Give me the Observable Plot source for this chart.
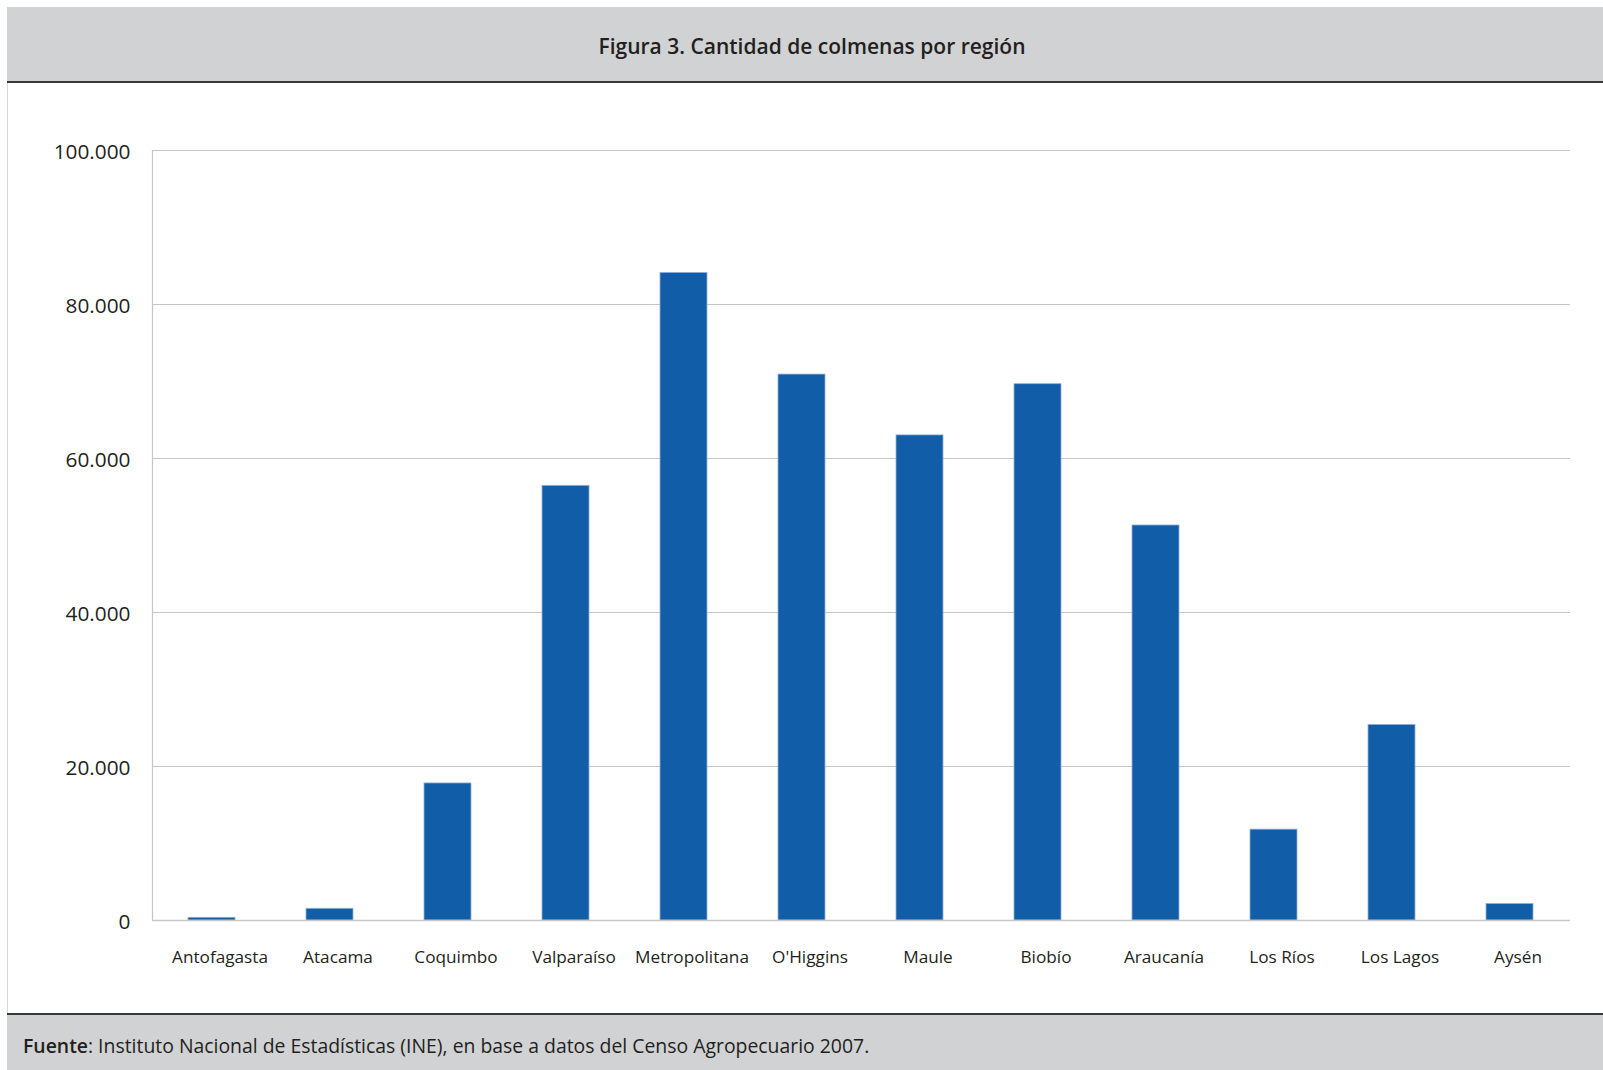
<!DOCTYPE html>
<html>
<head>
<meta charset="utf-8">
<script src="https://cdn.jsdelivr.net/npm/d3@7"></script>
<script src="https://cdn.jsdelivr.net/npm/@observablehq/plot@0.6"></script>
<style>
  html, body { margin: 0; padding: 0; background: #ffffff; }
  body { width: 1603px; height: 1070px; position: relative; overflow: hidden; font-family: "Open Sans", sans-serif; }
  #header { position: absolute; left: 7px; top: 7px; width: 1596px; height: 74px; background: #d1d2d4; border-bottom: 2px solid #3a3a3a; }
  #header .title { position: absolute; left: 0; width: 1610px; top: 2px; line-height: 74px; text-align: center; font-size: 21px; font-weight: 600; color: #231f20; }
  #body { position: absolute; left: 7px; top: 83px; width: 1596px; height: 930px; border-left: 1px solid #d6d6d6; box-sizing: border-box; }
  #chart { position: absolute; left: 8px; top: 83px; }
  #footer { position: absolute; left: 7px; top: 1013px; width: 1596px; height: 57px; background: #d1d2d4; border-top: 2px solid #3a3a3a; box-sizing: border-box; }
  #footer .src { position: absolute; left: 16px; top: 17px; font-size: 19.4px; color: #231f20; }
</style>
</head>
<body>
<div id="header"><div class="title">Figura 3. Cantidad de colmenas por región</div></div>
<div id="body"></div>
<div id="chart"></div>
<div id="footer"><div class="src"><b style="font-weight:600">Fuente</b>: Instituto Nacional de Estadísticas (INE), en base a datos del Censo Agropecuario 2007.</div></div>
<script>
const regiones = ["Antofagasta", "Atacama", "Coquimbo", "Valparaíso", "Metropolitana", "O'Higgins", "Maule", "Biobío", "Araucanía", "Los Ríos", "Los Lagos", "Aysén"];
const colmenas = [350, 1520, 17800, 56450, 84100, 70900, 63000, 69650, 51300, 11800, 25400, 2150];
const yTicks = [0, 20000, 40000, 60000, 80000, 100000];
const yTickLabels = ["0", "20.000", "40.000", "60.000", "80.000", "100.000"];

const data = regiones.map((r, i) => ({region: r, valor: colmenas[i]}));

const chart = Plot.plot({
  width: 1595,
  height: 930,
  marginLeft: 144,
  marginRight: 33,
  marginTop: 67,
  marginBottom: 93,
  style: { fontFamily: "Open Sans, sans-serif", background: "transparent", color: "#231f20" },
  x: { domain: regiones, paddingInner: 0.6, paddingOuter: 0.3, label: null },
  y: { domain: [0, 100000], label: null },
  marks: [
    Plot.gridY(yTicks, { stroke: "#c6c6c6", strokeOpacity: 1, strokeWidth: 1.2 }),
    Plot.frame({ anchor: "left", stroke: "#c6c6c6", strokeWidth: 1.2 }),
    Plot.barY(data, { x: "region", y: "valor", fill: "#115da7", stroke: "#8fb0d8", strokeWidth: 0.8 }),
    Plot.ruleY([0], { stroke: "#c6c6c6", strokeWidth: 1.5 }),
    Plot.axisY({ ticks: yTicks, tickFormat: (d) => yTickLabels[yTicks.indexOf(d)], tickSize: 0, tickPadding: 22, fontSize: 20.8, dy: 2, label: null }),
    Plot.axisX({ tickSize: 0, tickPadding: 30, fontSize: 17.2, dx: 8, label: null })
  ]
});
document.getElementById("chart").appendChild(chart);
</script>
</body>
</html>
